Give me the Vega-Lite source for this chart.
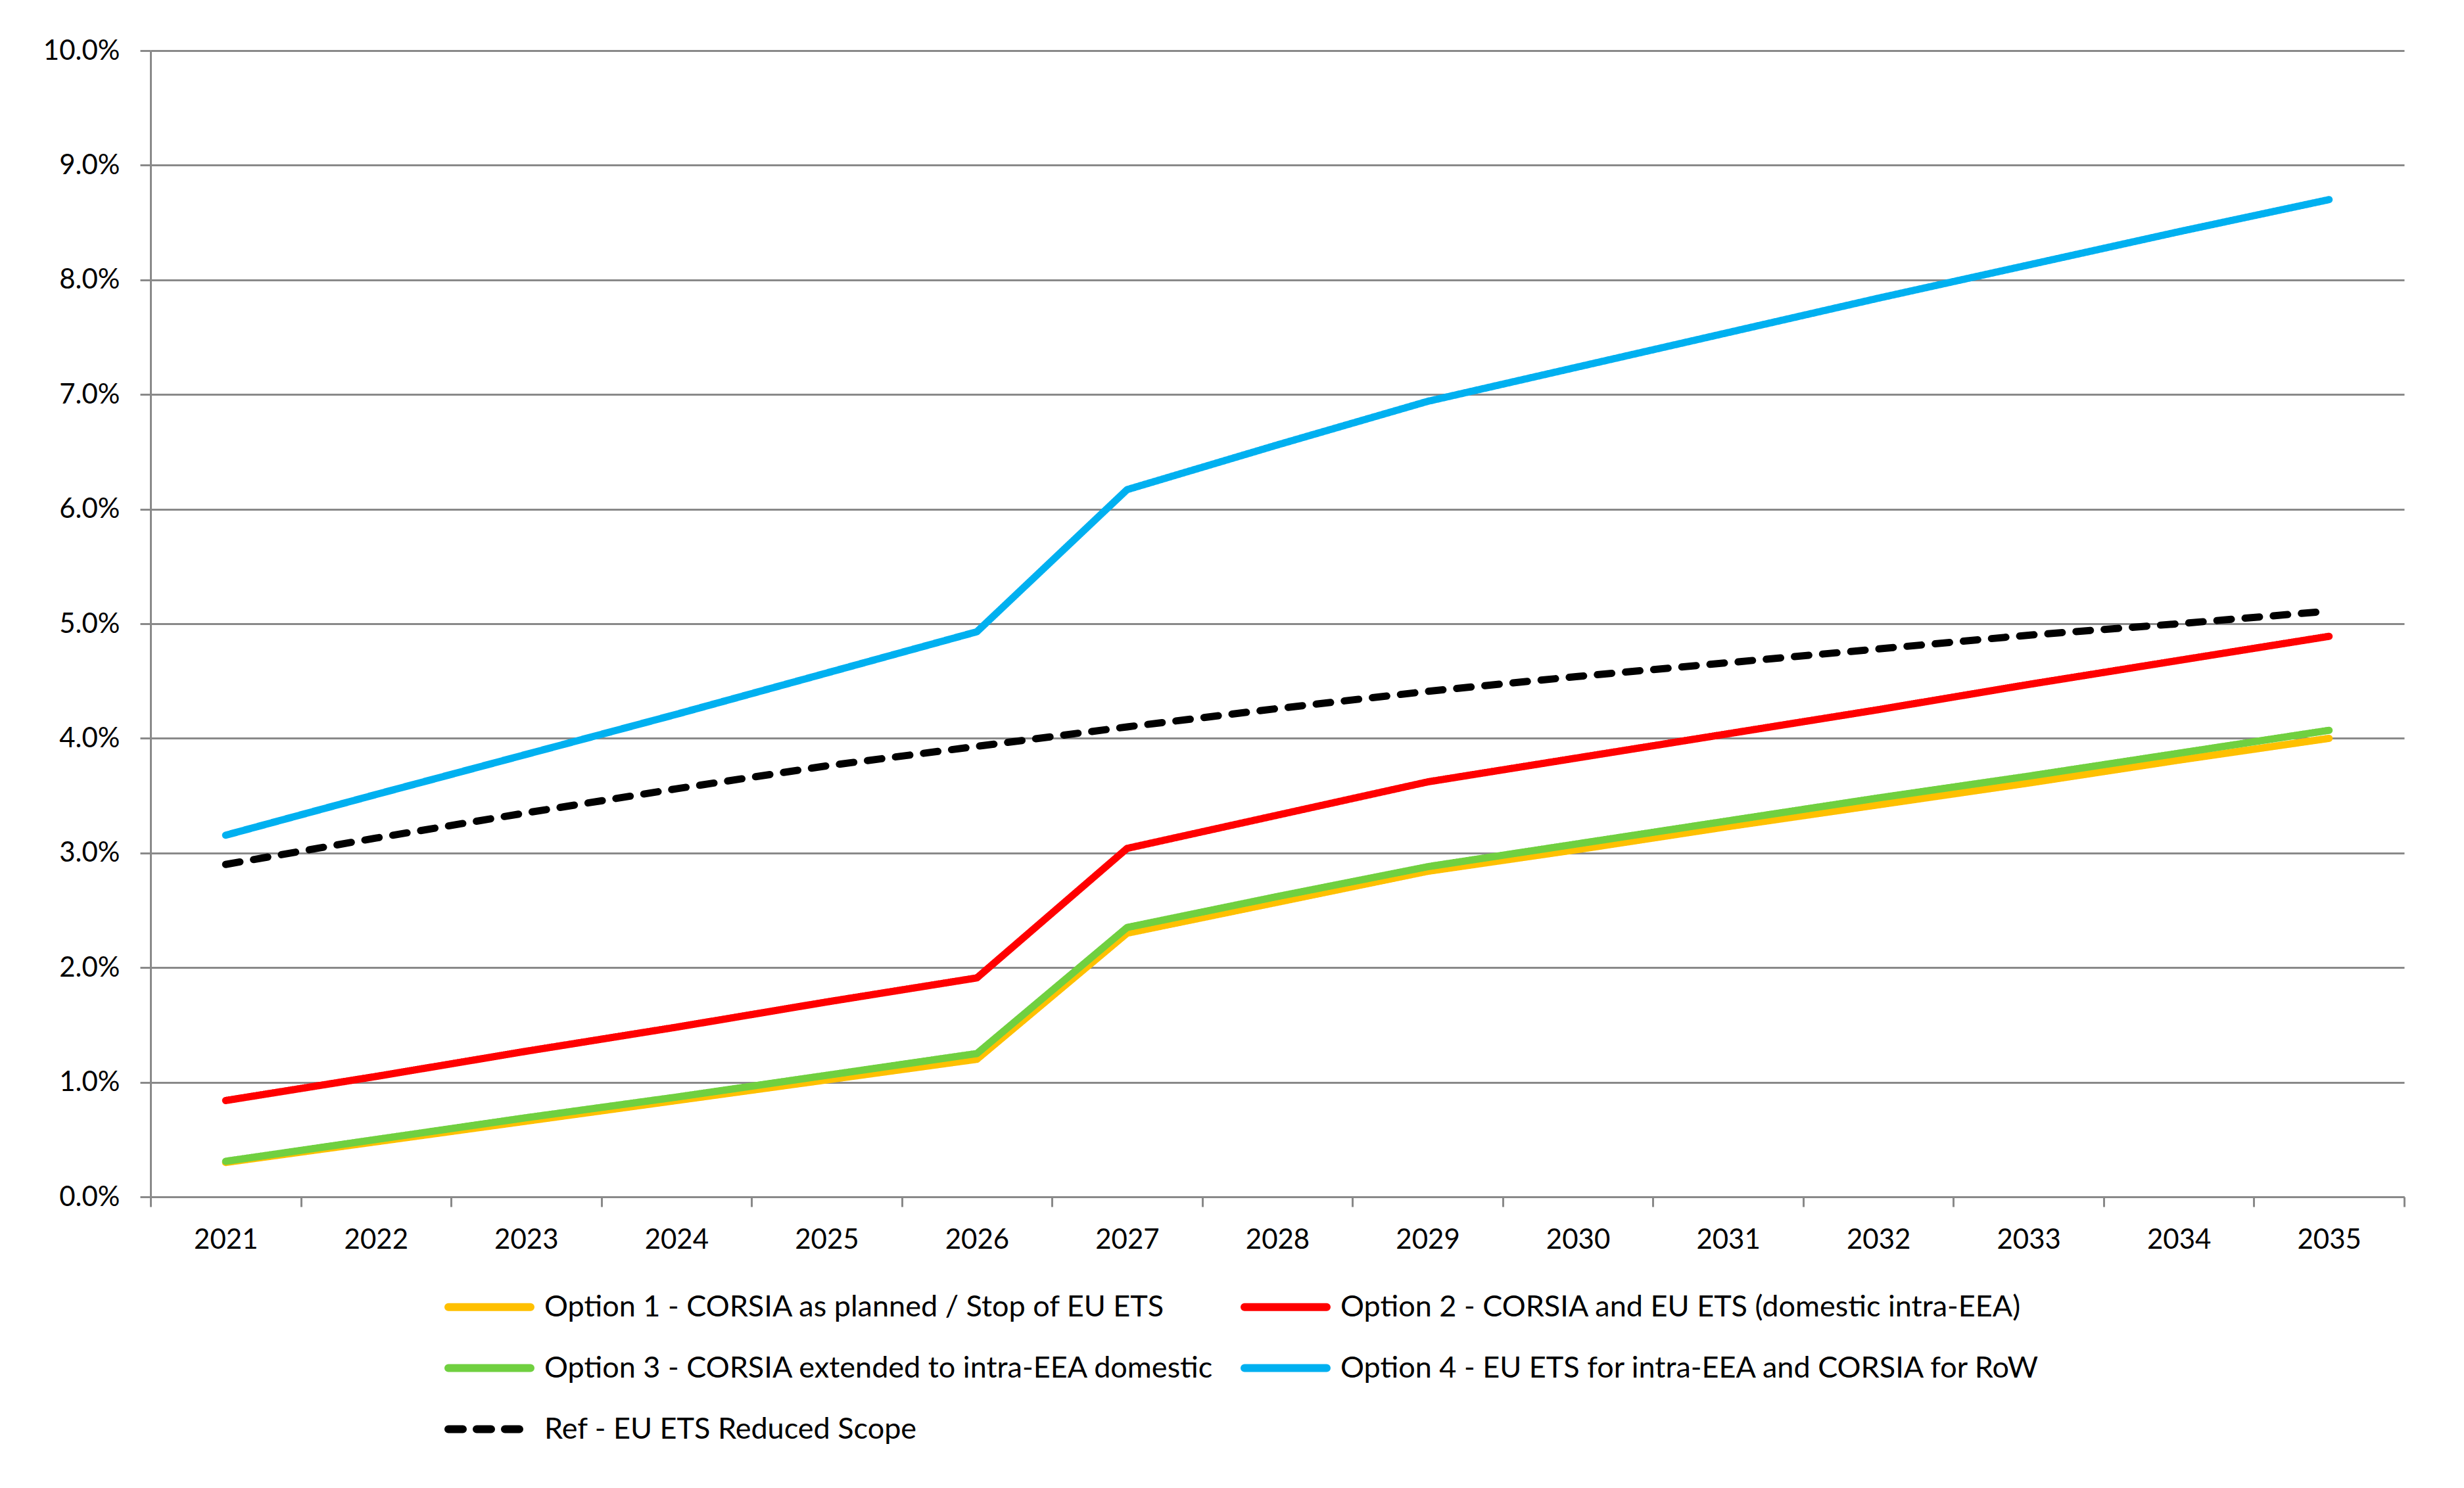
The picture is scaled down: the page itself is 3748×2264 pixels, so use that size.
{
  "$schema": "https://vega.github.io/schema/vega-lite/v6.json",
  "width": 3428,
  "height": 1744,
  "autosize": {"type": "none"},
  "padding": {"left": 229, "top": 77, "right": 91, "bottom": 443},
  "background": "white",
  "config": {
    "font": "Lato",
    "view": {"stroke": null},
    "axis": {"labelFont": "Lato", "labelFontSize": 42, "labelColor": "#000000", "domainColor": "#898989", "domainWidth": 3, "tickColor": "#898989", "tickWidth": 3, "gridColor": "#898989", "gridWidth": 3, "title": null},
    "legend": {"orient": "none", "direction": "horizontal", "legendX": 447, "legendY": 1843, "columns": 2, "symbolType": "stroke", "symbolSize": 15625, "symbolStrokeWidth": 12, "labelFont": "Lato", "labelFontSize": 45, "labelColor": "#000000", "labelLimit": 2000, "columnPadding": 21, "rowPadding": -2, "labelOffset": 15, "padding": 0, "title": null}
  },
  "data": {"values": [
    {"year": "2021", "series": "Option 1 - CORSIA as planned / Stop of EU ETS", "value": 0.0030},
    {"year": "2022", "series": "Option 1 - CORSIA as planned / Stop of EU ETS", "value": 0.0048},
    {"year": "2023", "series": "Option 1 - CORSIA as planned / Stop of EU ETS", "value": 0.0066},
    {"year": "2024", "series": "Option 1 - CORSIA as planned / Stop of EU ETS", "value": 0.0084},
    {"year": "2025", "series": "Option 1 - CORSIA as planned / Stop of EU ETS", "value": 0.0102},
    {"year": "2026", "series": "Option 1 - CORSIA as planned / Stop of EU ETS", "value": 0.0120},
    {"year": "2027", "series": "Option 1 - CORSIA as planned / Stop of EU ETS", "value": 0.0230},
    {"year": "2028", "series": "Option 1 - CORSIA as planned / Stop of EU ETS", "value": 0.0257},
    {"year": "2029", "series": "Option 1 - CORSIA as planned / Stop of EU ETS", "value": 0.0284},
    {"year": "2030", "series": "Option 1 - CORSIA as planned / Stop of EU ETS", "value": 0.0303},
    {"year": "2031", "series": "Option 1 - CORSIA as planned / Stop of EU ETS", "value": 0.0323},
    {"year": "2032", "series": "Option 1 - CORSIA as planned / Stop of EU ETS", "value": 0.0342},
    {"year": "2033", "series": "Option 1 - CORSIA as planned / Stop of EU ETS", "value": 0.0361},
    {"year": "2034", "series": "Option 1 - CORSIA as planned / Stop of EU ETS", "value": 0.0381},
    {"year": "2035", "series": "Option 1 - CORSIA as planned / Stop of EU ETS", "value": 0.0400},
    {"year": "2021", "series": "Option 2 - CORSIA and EU ETS (domestic intra-EEA)", "value": 0.0084},
    {"year": "2022", "series": "Option 2 - CORSIA and EU ETS (domestic intra-EEA)", "value": 0.0105},
    {"year": "2023", "series": "Option 2 - CORSIA and EU ETS (domestic intra-EEA)", "value": 0.0127},
    {"year": "2024", "series": "Option 2 - CORSIA and EU ETS (domestic intra-EEA)", "value": 0.0148},
    {"year": "2025", "series": "Option 2 - CORSIA and EU ETS (domestic intra-EEA)", "value": 0.0170},
    {"year": "2026", "series": "Option 2 - CORSIA and EU ETS (domestic intra-EEA)", "value": 0.0191},
    {"year": "2027", "series": "Option 2 - CORSIA and EU ETS (domestic intra-EEA)", "value": 0.0304},
    {"year": "2028", "series": "Option 2 - CORSIA and EU ETS (domestic intra-EEA)", "value": 0.0333},
    {"year": "2029", "series": "Option 2 - CORSIA and EU ETS (domestic intra-EEA)", "value": 0.0362},
    {"year": "2030", "series": "Option 2 - CORSIA and EU ETS (domestic intra-EEA)", "value": 0.0383},
    {"year": "2031", "series": "Option 2 - CORSIA and EU ETS (domestic intra-EEA)", "value": 0.0404},
    {"year": "2032", "series": "Option 2 - CORSIA and EU ETS (domestic intra-EEA)", "value": 0.0425},
    {"year": "2033", "series": "Option 2 - CORSIA and EU ETS (domestic intra-EEA)", "value": 0.0447},
    {"year": "2034", "series": "Option 2 - CORSIA and EU ETS (domestic intra-EEA)", "value": 0.0468},
    {"year": "2035", "series": "Option 2 - CORSIA and EU ETS (domestic intra-EEA)", "value": 0.0489},
    {"year": "2021", "series": "Option 3 - CORSIA extended to intra-EEA domestic", "value": 0.0031},
    {"year": "2022", "series": "Option 3 - CORSIA extended to intra-EEA domestic", "value": 0.0050},
    {"year": "2023", "series": "Option 3 - CORSIA extended to intra-EEA domestic", "value": 0.0069},
    {"year": "2024", "series": "Option 3 - CORSIA extended to intra-EEA domestic", "value": 0.0087},
    {"year": "2025", "series": "Option 3 - CORSIA extended to intra-EEA domestic", "value": 0.0106},
    {"year": "2026", "series": "Option 3 - CORSIA extended to intra-EEA domestic", "value": 0.0125},
    {"year": "2027", "series": "Option 3 - CORSIA extended to intra-EEA domestic", "value": 0.0235},
    {"year": "2028", "series": "Option 3 - CORSIA extended to intra-EEA domestic", "value": 0.0262},
    {"year": "2029", "series": "Option 3 - CORSIA extended to intra-EEA domestic", "value": 0.0288},
    {"year": "2030", "series": "Option 3 - CORSIA extended to intra-EEA domestic", "value": 0.0308},
    {"year": "2031", "series": "Option 3 - CORSIA extended to intra-EEA domestic", "value": 0.0328},
    {"year": "2032", "series": "Option 3 - CORSIA extended to intra-EEA domestic", "value": 0.0348},
    {"year": "2033", "series": "Option 3 - CORSIA extended to intra-EEA domestic", "value": 0.0367},
    {"year": "2034", "series": "Option 3 - CORSIA extended to intra-EEA domestic", "value": 0.0387},
    {"year": "2035", "series": "Option 3 - CORSIA extended to intra-EEA domestic", "value": 0.0407},
    {"year": "2021", "series": "Option 4 - EU ETS for intra-EEA and CORSIA for RoW", "value": 0.03155},
    {"year": "2022", "series": "Option 4 - EU ETS for intra-EEA and CORSIA for RoW", "value": 0.0351},
    {"year": "2023", "series": "Option 4 - EU ETS for intra-EEA and CORSIA for RoW", "value": 0.0386},
    {"year": "2024", "series": "Option 4 - EU ETS for intra-EEA and CORSIA for RoW", "value": 0.0421},
    {"year": "2025", "series": "Option 4 - EU ETS for intra-EEA and CORSIA for RoW", "value": 0.0457},
    {"year": "2026", "series": "Option 4 - EU ETS for intra-EEA and CORSIA for RoW", "value": 0.0493},
    {"year": "2027", "series": "Option 4 - EU ETS for intra-EEA and CORSIA for RoW", "value": 0.0617},
    {"year": "2028", "series": "Option 4 - EU ETS for intra-EEA and CORSIA for RoW", "value": 0.0656},
    {"year": "2029", "series": "Option 4 - EU ETS for intra-EEA and CORSIA for RoW", "value": 0.0694},
    {"year": "2030", "series": "Option 4 - EU ETS for intra-EEA and CORSIA for RoW", "value": 0.0724},
    {"year": "2031", "series": "Option 4 - EU ETS for intra-EEA and CORSIA for RoW", "value": 0.0754},
    {"year": "2032", "series": "Option 4 - EU ETS for intra-EEA and CORSIA for RoW", "value": 0.0784},
    {"year": "2033", "series": "Option 4 - EU ETS for intra-EEA and CORSIA for RoW", "value": 0.0813},
    {"year": "2034", "series": "Option 4 - EU ETS for intra-EEA and CORSIA for RoW", "value": 0.0842},
    {"year": "2035", "series": "Option 4 - EU ETS for intra-EEA and CORSIA for RoW", "value": 0.0870},
    {"year": "2021", "series": "Ref - EU ETS Reduced Scope", "value": 0.0290},
    {"year": "2022", "series": "Ref - EU ETS Reduced Scope", "value": 0.0313},
    {"year": "2023", "series": "Ref - EU ETS Reduced Scope", "value": 0.0335},
    {"year": "2024", "series": "Ref - EU ETS Reduced Scope", "value": 0.0356},
    {"year": "2025", "series": "Ref - EU ETS Reduced Scope", "value": 0.0376},
    {"year": "2026", "series": "Ref - EU ETS Reduced Scope", "value": 0.0393},
    {"year": "2027", "series": "Ref - EU ETS Reduced Scope", "value": 0.0410},
    {"year": "2028", "series": "Ref - EU ETS Reduced Scope", "value": 0.0426},
    {"year": "2029", "series": "Ref - EU ETS Reduced Scope", "value": 0.0441},
    {"year": "2030", "series": "Ref - EU ETS Reduced Scope", "value": 0.0454},
    {"year": "2031", "series": "Ref - EU ETS Reduced Scope", "value": 0.0466},
    {"year": "2032", "series": "Ref - EU ETS Reduced Scope", "value": 0.0478},
    {"year": "2033", "series": "Ref - EU ETS Reduced Scope", "value": 0.0490},
    {"year": "2034", "series": "Ref - EU ETS Reduced Scope", "value": 0.0500},
    {"year": "2035", "series": "Ref - EU ETS Reduced Scope", "value": 0.0511}
  ]},
  "mark": {"type": "line", "strokeWidth": 11, "strokeCap": "round", "strokeJoin": "round"},
  "encoding": {
    "x": {
      "field": "year", "type": "ordinal",
      "scale": {"type": "band", "paddingInner": 0, "paddingOuter": 0},
      "bandPosition": 0.5,
      "axis": {"tickBand": "extent", "labelAngle": 0, "tickSize": 15, "labelPadding": 30, "grid": false, "title": null}
    },
    "y": {
      "field": "value", "type": "quantitative",
      "scale": {"domain": [0, 0.1], "nice": false},
      "axis": {"values": [0, 0.01, 0.02, 0.03, 0.04, 0.05, 0.06, 0.07, 0.08, 0.09, 0.1], "format": ".1%", "tickSize": 16, "labelPadding": 31, "grid": true, "title": null}
    },
    "color": {
      "field": "series", "type": "nominal",
      "scale": {
        "domain": ["Option 1 - CORSIA as planned / Stop of EU ETS", "Option 2 - CORSIA and EU ETS (domestic intra-EEA)", "Option 3 - CORSIA extended to intra-EEA domestic", "Option 4 - EU ETS for intra-EEA and CORSIA for RoW", "Ref - EU ETS Reduced Scope"],
        "range": ["#FFC000", "#FF0000", "#70D040", "#00B0F0", "#000000"]
      },
      "legend": {"title": null, "encode": {"symbols": {"update": {"strokeCap": {"value": "round"}}}}}
    },
    "strokeDash": {
      "field": "series", "type": "nominal",
      "scale": {
        "domain": ["Option 1 - CORSIA as planned / Stop of EU ETS", "Option 2 - CORSIA and EU ETS (domestic intra-EEA)", "Option 3 - CORSIA extended to intra-EEA domestic", "Option 4 - EU ETS for intra-EEA and CORSIA for RoW", "Ref - EU ETS Reduced Scope"],
        "range": [[1, 0], [1, 0], [1, 0], [1, 0], [22, 21]]
      },
      "legend": {"title": null, "encode": {"symbols": {"update": {"strokeCap": {"value": "round"}}}}}
    }
  }
}
